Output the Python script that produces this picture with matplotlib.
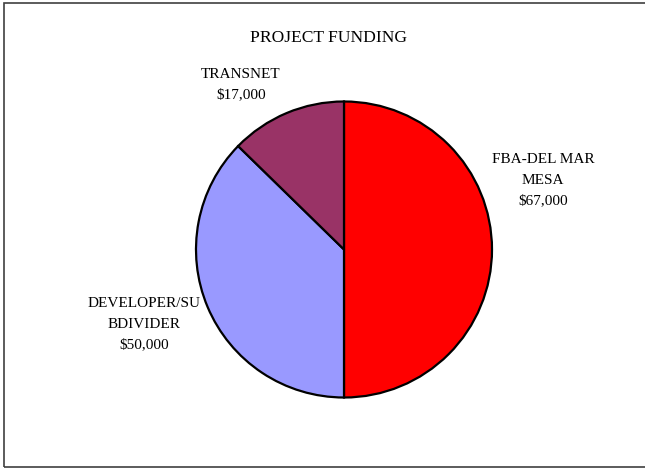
import matplotlib
matplotlib.use("Agg")
import matplotlib.pyplot as plt
from matplotlib.patches import Rectangle

categories = ["FBA-DEL MAR\nMESA", "DEVELOPER/SU\nBDIVIDER", "TRANSNET"]
values = [67000, 50000, 17000]
colors = ["#FF0000", "#9999FF", "#993366"]
title = "PROJECT FUNDING"

W, H = 645, 468
fig = plt.figure(figsize=(W / 100, H / 100), dpi=100)
ax = fig.add_axes([0, 0, 1, 1])
plt.rcParams['font.family'] = ['Liberation Serif', 'DejaVu Serif']

def Y(ypx):
    return H - ypx

ax.pie(values, colors=colors, startangle=90, counterclock=False,
       center=(344, Y(249.5)), radius=148,
       wedgeprops=dict(edgecolor="black", linewidth=1.6))
ax.set_xlim(0, W)
ax.set_ylim(0, H)
ax.set_aspect("auto")
ax.axis("off")

ax.text(329, Y(38), title, ha="center", va="center", fontsize=12.6,
        family="Liberation Serif")

label_pos = [(543, 180), (144.5, 324), (241, 85)]
for cat, val, (x, y) in zip(categories, values, label_pos):
    ax.text(x, Y(y), f"{cat}\n${val:,}", ha="center", va="center",
            fontsize=11, family="Liberation Serif", linespacing=1.72)

ax.add_patch(Rectangle((4, Y(467)), 700, 464, fill=False,
                       edgecolor="#404040", linewidth=1.2, clip_on=False))

fig.savefig("out.png", dpi=100)
